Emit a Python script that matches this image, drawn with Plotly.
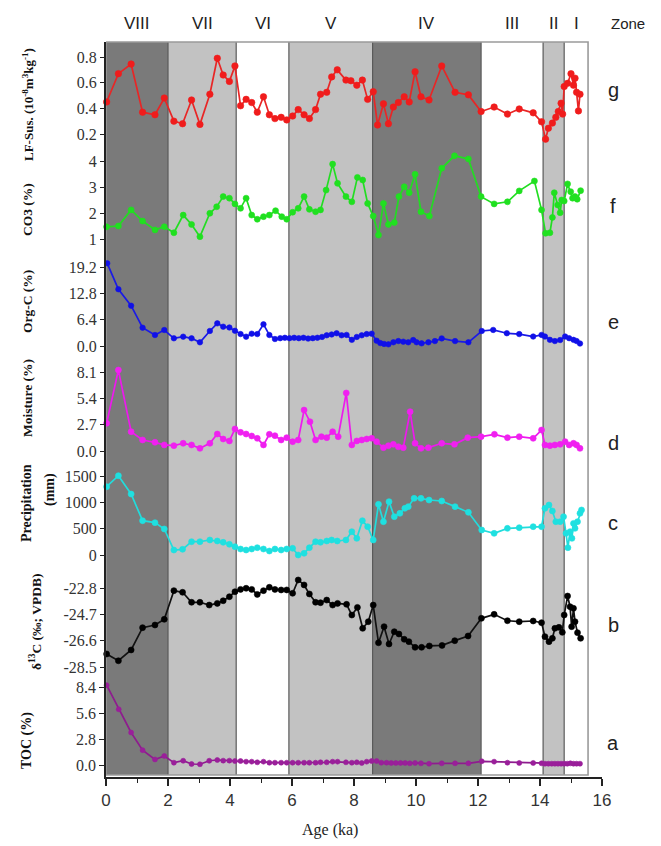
import plotly.graph_objects as go

# ---------------- data ----------------
zone_names = ["VIII", "VII", "VI", "V", "IV", "III", "II", "I"]
zone_bounds = [0.0, 2.0, 4.2, 5.9, 8.6, 12.1, 14.1, 14.78, 15.55]
zone_shade = ["dark", "light", "none", "light", "dark", "none", "light", "none"]

x_ticks = [0, 2, 4, 6, 8, 10, 12, 14, 16]

# g: LF-Sus
g_age = [0.02,0.40,0.81,1.18,1.58,1.88,2.19,2.47,2.76,3.03,3.35,3.59,3.78,3.98,4.16,4.34,4.52,4.70,4.88,5.08,
         5.27,5.45,5.65,5.83,6.02,6.20,6.39,6.56,6.76,6.92,7.12,7.28,7.46,7.74,7.90,8.09,8.27,8.44,8.62,8.76,
         8.95,9.11,9.27,9.43,9.62,9.78,9.97,10.16,10.42,10.83,11.26,11.69,12.10,12.52,12.95,13.33,13.78,14.05,
         14.18,14.27,14.40,14.51,14.59,14.68,14.73,14.78,14.89,15.00,15.08,15.13,15.18,15.24,15.29]
g_val = [0.45,0.67,0.745,0.37,0.35,0.48,0.30,0.28,0.465,0.275,0.51,0.79,0.66,0.61,0.73,0.42,0.47,0.445,0.37,0.49,
         0.35,0.32,0.33,0.31,0.34,0.39,0.35,0.32,0.39,0.51,0.525,0.645,0.70,0.62,0.615,0.58,0.62,0.47,0.53,0.27,
         0.435,0.28,0.41,0.445,0.49,0.45,0.685,0.49,0.465,0.73,0.525,0.505,0.375,0.41,0.355,0.395,0.365,0.295,
         0.16,0.245,0.285,0.33,0.375,0.44,0.355,0.57,0.595,0.67,0.58,0.635,0.525,0.38,0.51]
g_ticks = [0.8, 0.6, 0.4, 0.2]
g_ticktext = ["0.8", "0.6", "0.4", "0.2"]

# f: CO3
f_age = [0.02,0.40,0.81,1.18,1.58,1.88,2.19,2.49,2.76,3.03,3.35,3.57,3.78,3.98,4.16,4.34,4.52,4.70,4.88,5.08,
         5.27,5.47,5.67,5.83,6.02,6.20,6.39,6.56,6.76,6.92,7.10,7.31,7.47,7.74,7.93,8.11,8.28,8.44,8.62,8.79,
         8.95,9.11,9.30,9.45,9.62,9.78,9.97,10.16,10.43,10.83,11.24,11.69,12.10,12.52,12.95,13.33,13.82,14.05,
         14.18,14.32,14.40,14.46,14.57,14.65,14.70,14.78,14.89,14.99,15.05,15.13,15.20,15.31]
f_val = [1.47,1.50,2.12,1.69,1.35,1.47,1.24,1.92,1.56,1.09,1.99,2.24,2.63,2.57,2.35,2.18,2.57,1.92,1.76,1.86,
         1.92,2.09,1.86,1.76,2.03,2.18,2.63,2.14,2.05,2.12,2.88,3.88,3.14,2.63,2.43,3.37,3.27,2.37,1.88,1.15,
         2.37,1.56,1.63,2.63,3.01,2.78,3.49,2.05,1.88,3.72,4.20,4.08,2.63,2.35,2.43,2.85,3.23,2.12,
         1.22,1.24,1.83,2.78,2.31,2.01,2.50,2.46,3.12,2.82,2.57,2.63,2.53,2.86]
f_ticks = [4, 3, 2, 1]
f_ticktext = ["4", "3", "2", "1"]

# e: Org-C
e_age = [0.04,0.40,0.81,1.18,1.58,1.88,2.19,2.49,2.76,3.03,3.35,3.59,3.78,3.98,4.16,4.34,4.52,4.70,4.88,5.08,
         5.27,5.45,5.62,5.77,5.92,6.07,6.22,6.37,6.52,6.67,6.82,6.97,7.12,7.28,7.44,7.60,7.76,7.93,8.09,8.25,
         8.41,8.57,8.73,8.85,8.97,9.11,9.27,9.43,9.59,9.75,9.91,10.02,10.18,10.40,10.61,10.83,11.26,11.69,12.12,
         12.49,12.93,13.33,13.78,14.05,14.16,14.32,14.48,14.65,14.81,14.94,15.08,15.18,15.29]
e_val = [20.1,13.8,9.8,4.45,2.67,3.89,1.87,2.27,1.87,0.89,3.65,5.5,4.7,4.5,3.7,2.9,2.27,3.0,2.9,5.27,
         2.67,1.7,1.9,2.0,1.9,2.0,1.9,2.0,1.8,1.9,2.0,2.2,2.6,2.8,3.1,2.6,2.7,1.5,2.2,2.6,
         2.9,3.0,1.3,0.7,0.5,0.4,0.9,1.2,1.05,0.9,1.45,0.9,0.65,0.9,1.2,1.85,1.2,0.9,3.65,
         3.9,3.1,2.9,2.3,2.7,2.3,1.5,1.2,1.45,2.3,1.9,1.5,1.2,0.6]
e_ticks = [19.2, 12.8, 6.4, 0.0]
e_ticktext = ["19.2", "12.8", "6.4", "0.0"]

# d: Moisture
d_age = [0.02,0.40,0.81,1.18,1.58,1.88,2.19,2.49,2.76,3.03,3.35,3.59,3.78,3.98,4.16,4.34,4.52,4.70,4.88,5.08,
         5.27,5.45,5.65,5.83,6.02,6.20,6.39,6.58,6.76,6.95,7.12,7.31,7.49,7.75,7.93,8.09,8.25,8.41,8.57,8.73,
         8.95,9.11,9.27,9.43,9.59,9.81,9.97,10.16,10.40,10.83,11.24,11.67,12.10,12.53,12.95,13.33,13.78,14.05,
         14.16,14.32,14.48,14.65,14.81,14.94,15.08,15.18,15.29]
d_val = [2.84,8.3,1.98,1.13,0.89,0.62,0.55,0.79,0.62,0.27,0.79,1.74,1.23,1.03,2.26,1.91,1.74,1.54,1.3,0.62,
         1.71,1.57,1.13,1.37,0.96,1.13,4.2,3.0,1.13,1.47,1.37,1.98,1.47,5.95,0.62,1.03,1.13,1.23,1.3,0.96,
         0.34,0.55,0.68,0.44,0.34,4.03,0.79,0.27,0.34,0.79,0.68,1.37,1.47,1.71,1.37,1.47,1.3,2.15,
         0.62,0.55,0.62,0.68,0.96,0.62,0.79,0.62,0.27]
d_ticks = [8.1, 5.4, 2.7, 0.0]
d_ticktext = ["8.1", "5.4", "2.7", "0.0"]

# c: Precipitation
c_age = [0.02,0.40,0.81,1.18,1.58,1.88,2.19,2.47,2.76,3.03,3.35,3.59,3.78,3.98,4.16,4.34,4.52,4.70,4.88,5.08,
         5.27,5.45,5.65,5.83,6.02,6.20,6.39,6.56,6.76,6.92,7.12,7.28,7.46,7.74,7.93,8.09,8.27,8.44,8.62,8.79,
         8.95,9.13,9.30,9.48,9.64,9.75,9.94,10.16,10.42,10.83,11.26,11.69,12.12,12.52,12.95,13.33,13.78,14.05,
         14.16,14.29,14.40,14.51,14.65,14.76,14.84,14.90,14.97,15.03,15.08,15.13,15.21,15.29,15.34]
c_val = [1297,1506,1158,652,614,494,95,108,253,253,285,266,241,203,158,114,95,114,139,114,
         76,114,95,114,127,0,32,139,253,241,266,285,266,285,443,316,652,538,285,962,
         633,1013,728,791,886,918,1076,1076,1044,1025,918,810,475,411,506,519,538,538,
         886,950,836,633,633,728,411,139,443,316,600,506,633,791,855]
c_ticks = [1500, 1000, 500, 0]
c_ticktext = ["1500", "1000", "500", "0"]

# b: d13C
b_age = [0.02,0.40,0.81,1.18,1.58,1.88,2.19,2.47,2.76,3.03,3.33,3.59,3.78,3.98,4.16,4.34,4.52,4.70,4.88,5.08,
         5.27,5.45,5.65,5.83,6.02,6.20,6.39,6.56,6.76,6.92,7.12,7.31,7.47,7.76,7.93,8.11,8.28,8.46,8.62,8.79,
         8.97,9.13,9.30,9.45,9.62,9.77,9.97,10.18,10.43,10.84,11.25,11.68,12.11,12.52,12.95,13.33,13.78,14.05,
         14.16,14.29,14.40,14.48,14.61,14.72,14.78,14.89,14.97,15.02,15.08,15.13,15.21,15.31]
b_val = [-27.56,-28.05,-27.27,-25.66,-25.47,-25.06,-22.99,-23.11,-23.83,-23.83,-24.03,-23.91,-23.72,-23.43,-23.07,
         -22.90,-22.82,-22.90,-23.26,-22.99,-22.75,-22.90,-22.94,-22.94,-23.18,-22.22,-22.58,-23.23,-23.83,-23.86,
         -23.67,-24.03,-23.91,-23.98,-24.75,-24.20,-25.71,-25.23,-24.03,-26.75,-25.59,-26.84,-25.95,-26.12,-26.50,
         -26.67,-27.08,-27.08,-26.98,-26.94,-26.60,-26.26,-24.99,-24.70,-25.16,-25.23,-25.18,-25.30,-26.31,-26.67,
         -26.43,-25.71,-25.64,-26.00,-24.75,-23.38,-24.15,-25.59,-24.27,-25.23,-26.02,-26.43]
b_ticks = [-22.8, -24.7, -26.6, -28.5]
b_ticktext = ["-22.8", "-24.7", "-26.6", "-28.5"]

# a: TOC
a_age = [0.02,0.41,0.81,1.18,1.58,1.88,2.19,2.49,2.76,3.03,3.33,3.59,3.78,3.98,4.16,4.34,4.52,4.70,4.88,5.08,
         5.27,5.45,5.65,5.83,6.02,6.20,6.39,6.56,6.76,6.92,7.12,7.31,7.47,7.74,7.93,8.09,8.25,8.41,8.57,8.73,
         8.88,9.05,9.20,9.35,9.50,9.65,9.80,9.97,10.16,10.42,10.83,11.26,11.69,12.12,12.52,12.95,13.33,13.78,
         14.05,14.16,14.27,14.38,14.48,14.58,14.68,14.78,14.88,14.98,15.08,15.18,15.29]
a_val = [8.6,6.0,3.5,1.6,0.6,0.97,0.25,0.46,0.11,0.08,0.46,0.54,0.47,0.47,0.43,0.43,0.36,0.36,0.29,0.36,
         0.25,0.25,0.25,0.25,0.25,0.25,0.25,0.25,0.25,0.29,0.29,0.36,0.36,0.29,0.25,0.29,0.22,0.36,0.43,0.43,
         0.25,0.25,0.22,0.22,0.22,0.22,0.18,0.22,0.18,0.14,0.18,0.18,0.18,0.40,0.36,0.25,0.22,0.22,
         0.18,0.14,0.14,0.14,0.14,0.14,0.14,0.14,0.14,0.18,0.14,0.14,0.14]
a_ticks = [8.4, 5.6, 2.8, 0.0]
a_ticktext = ["8.4", "5.6", "2.8", "0.0"]

# ---------------- layout geometry (pixels) ----------------
W, H = 661, 846
L, R = 106, 602      # x plot area
T, B = 42, 777       # y plot area


def xp(px):
    return (px - L) / (R - L)


def yp(py):
    return (B - py) / (B - T)


def yrange(v1, p1, v2, p2):
    s = (v2 - v1) / (p2 - p1)
    return [v1 + s * (B - p1), v1 + s * (T - p1)]


SERIF = "Liberation Serif, Times New Roman, serif"
SANS = "Liberation Sans, Arial, sans-serif"

panels = [
    ("a", a_age, a_val, a_ticks, a_ticktext, (687, 765), "#8e1c8e", "#9a1f9a", 743, 5),
    ("b", b_age, b_val, b_ticks, b_ticktext, (588, 667), "#111111", "#000000", 625, 6),
    ("c", c_age, c_val, c_ticks, c_ticktext, (476, 555), "#22dcdc", "#1fe0e0", 523, 6),
    ("d", d_age, d_val, d_ticks, d_ticktext, (372, 451), "#ee18ee", "#f020f0", 443, 6),
    ("e", e_age, e_val, e_ticks, e_ticktext, (267, 346), "#1a1ae6", "#1010e8", 322, 5.5),
    ("f", f_age, f_val, f_ticks, f_ticktext, (161, 239), "#22dd22", "#20e020", 206, 6),
    ("g", g_age, g_val, g_ticks, g_ticktext, (57, 134), "#e82626", "#f01c1c", 90, 6.5),
]

fig = go.Figure()
layout_axes = {}
annotations = []

for i, (key, ages, vals, ticks, ttext, (ptop, pbot), lc, mc, ly, msize) in enumerate(panels):
    axname = "y" if i == 0 else f"y{i + 1}"
    layname = "yaxis" if i == 0 else f"yaxis{i + 1}"
    fig.add_trace(go.Scatter(
        x=ages, y=vals, yaxis=axname, mode="lines+markers",
        line=dict(color=lc, width=1.7),
        marker=dict(size=msize, color=mc, symbol="circle",
                    line=dict(width=0.6, color=mc)),
        showlegend=False, hoverinfo="skip", cliponaxis=False,
    ))
    ax = dict(
        range=yrange(ticks[0], ptop, ticks[-1], pbot),
        tickmode="array", tickvals=ticks, ticktext=ttext,
        ticks="outside", ticklen=5, tickwidth=1.3, tickcolor="#222",
        tickfont=dict(family=SERIF, size=16, color="#333"),
        showgrid=False, zeroline=False, fixedrange=True,
        showline=(i == 0), linecolor="#222", linewidth=1.5,
    )
    if i > 0:
        ax.update(overlaying="y", anchor="x", side="left")
    else:
        ax.update(anchor="x")
    layout_axes[layname] = ax
    annotations.append(dict(
        x=xp(613), y=yp(ly), xref="paper", yref="paper", text=key,
        showarrow=False, xanchor="center", yanchor="middle",
        font=dict(family=SANS, size=20, color="#222")))

# ---------------- zone shading ----------------
shade_col = {"dark": "#7a7a7a", "light": "#c2c2c2", "none": "#ffffff"}
shapes = []
box_bottom = yp(775)
for j, name in enumerate(zone_names):
    x0, x1 = zone_bounds[j], zone_bounds[j + 1]
    shapes.append(dict(type="rect", xref="x", yref="paper", x0=x0, x1=x1,
                       y0=box_bottom, y1=1, fillcolor=shade_col[zone_shade[j]],
                       line=dict(width=0), layer="below"))
    annotations.append(dict(
        x=(x0 + x1) / 2, y=yp(23), xref="x", yref="paper", text=name,
        showarrow=False, xanchor="center", yanchor="middle",
        font=dict(family=SANS, size=17, color="#222")))
for xb in zone_bounds[1:-1]:
    shapes.append(dict(type="line", xref="x", yref="paper", x0=xb, x1=xb,
                       y0=box_bottom, y1=1, line=dict(color="#5a5a5a", width=1.2),
                       layer="below"))
shapes.append(dict(type="rect", xref="x", yref="paper", x0=zone_bounds[0], x1=zone_bounds[-1],
                   y0=box_bottom, y1=1, line=dict(color="#9a9a9a", width=1.6),
                   fillcolor="rgba(0,0,0,0)", layer="below"))

annotations.append(dict(x=xp(628), y=yp(23), xref="paper", yref="paper", text="Zone",
                        showarrow=False, xanchor="center", yanchor="middle",
                        font=dict(family=SANS, size=15, color="#222")))

# ---------------- y titles ----------------
ytitles = [
    ("LF-Sus. (10<sup>-8</sup>m<sup>3</sup>kg<sup>-1</sup>)", 28, 105, 13),
    ("CO3 (%)", 28, 210, 13.5),
    ("Org-C (%)", 28, 302, 13.5),
    ("Moisture (%)", 28, 398, 13.5),
    ("Precipitation", 26, 503, 14),
    ("(mm)", 50, 490, 14),
    ("\u03b4<sup>13</sup>C (\u2030; VPDB)", 35, 622, 13.5),
    ("TOC (%)", 27, 741, 14),
]
for txt, px_, py_, sz in ytitles:
    annotations.append(dict(
        x=xp(px_), y=yp(py_), xref="paper", yref="paper", text=f"<b>{txt}</b>",
        textangle=-90, showarrow=False, xanchor="center", yanchor="middle",
        font=dict(family=SERIF, size=sz, color="#111")))

annotations.append(dict(x=xp(330), y=yp(830), xref="paper", yref="paper", text="Age (ka)",
                        showarrow=False, xanchor="center", yanchor="middle",
                        font=dict(family=SERIF, size=16, color="#222")))

fig.update_layout(
    width=W, height=H,
    margin=dict(l=L, r=W - R, t=T, b=H - B, pad=0),
    paper_bgcolor="white", plot_bgcolor="white",
    xaxis=dict(range=[0, 16], tickmode="array", tickvals=x_ticks,
               ticks="outside", ticklen=7, tickwidth=1.5, tickcolor="#222",
               showline=True, linecolor="#222", linewidth=2,
               showgrid=False, zeroline=False, fixedrange=True,
               tickfont=dict(family=SANS, size=17, color="#333"),
               minor=dict(dtick=1, tick0=0, ticks="outside", ticklen=4,
                          tickwidth=1.3, tickcolor="#222", showgrid=False)),
    shapes=shapes,
    annotations=annotations,
    **layout_axes,
)

fig.write_html("out.html")
